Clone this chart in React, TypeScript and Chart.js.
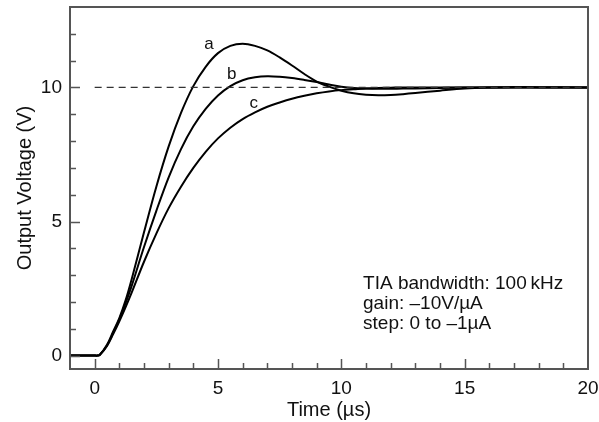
import { useEffect, useRef } from 'react';
import { Chart, registerables } from 'chart.js';

Chart.register(...registerables);

const times = [-1, 0, 0.1, 0.2, 0.5, 0.75, 1, 1.25, 1.5, 2, 2.5, 3, 3.5, 4, 4.5, 5, 5.5, 6, 6.5, 7, 7.5, 8, 8.5, 9, 9.5, 10, 10.5, 11, 11.5, 12, 12.5, 13, 14, 15, 16, 17, 18, 20];
const curveA = [0, 0, 0, 0.02, 0.4, 0.9, 1.4, 2.05, 2.85, 4.6, 6.3, 7.8, 9.05, 10.05, 10.77, 11.28, 11.55, 11.63, 11.55, 11.38, 11.12, 10.82, 10.5, 10.22, 10.03, 9.88, 9.78, 9.73, 9.71, 9.72, 9.75, 9.79, 9.88, 9.96, 10.0, 10.02, 10.01, 10];
const curveB = [0, 0, 0, 0.02, 0.38, 0.85, 1.35, 1.95, 2.6, 4.05, 5.4, 6.65, 7.7, 8.55, 9.2, 9.7, 10.05, 10.27, 10.38, 10.42, 10.4, 10.35, 10.28, 10.2, 10.11, 10.03, 9.98, 9.96, 9.95, 9.95, 9.96, 9.96, 9.98, 10, 10, 10, 10, 10];
const curveC = [0, 0, 0, 0.02, 0.36, 0.8, 1.28, 1.8, 2.35, 3.5, 4.55, 5.5, 6.3, 7.0, 7.6, 8.1, 8.5, 8.82, 9.07, 9.28, 9.44, 9.58, 9.69, 9.78, 9.85, 9.9, 9.93, 9.96, 9.98, 9.99, 10, 10, 10, 10, 10, 10, 10, 10];
const targetLine = [{ x: 0, y: 10 }, { x: 20, y: 10 }];

const xTickLabels = [0, 5, 10, 15, 20];
const yTickLabels = [0, 5, 10];
const xMinorTicks = Array.from({ length: 20 }, (_, i) => i);
const yMinorTicks = Array.from({ length: 13 }, (_, i) => i);

const curveNames = ['a', 'b', 'c'];
const curveLabelPos = [
  { x: 4.63, y: 11.6 },
  { x: 5.56, y: 10.49 },
  { x: 6.45, y: 9.4 },
];
const noteLines = ['TIA bandwidth: 100\u2009kHz', 'gain: \u201310V/\u00b5A', 'step: 0 to \u20131\u00b5A'];

const FONT = '"Liberation Sans", Arial, Helvetica, sans-serif';
const TEXT = '#111111';
const AXIS = '#555555';

const overlay = {
  id: 'overlay',
  afterDraw(chart: any) {
    const { ctx, chartArea, scales } = chart;
    const xs = scales.x;
    const ys = scales.y;
    ctx.save();
    ctx.strokeStyle = AXIS;
    ctx.lineWidth = 1.5;
    ctx.beginPath();
    xMinorTicks.forEach((v) => {
      const px = Math.round(xs.getPixelForValue(v)) + 0.5;
      const len = v % 5 === 0 ? 10 : 6;
      ctx.moveTo(px, chartArea.bottom);
      ctx.lineTo(px, chartArea.bottom - len);
    });
    yMinorTicks.forEach((v) => {
      const py = Math.round(ys.getPixelForValue(v)) + 0.5;
      const len = v % 5 === 0 ? 10 : 6;
      ctx.moveTo(chartArea.left, py);
      ctx.lineTo(chartArea.left + len, py);
    });
    ctx.stroke();
    ctx.lineWidth = 2;
    ctx.strokeRect(chartArea.left, chartArea.top, chartArea.right - chartArea.left, chartArea.bottom - chartArea.top);
    ctx.fillStyle = TEXT;
    ctx.font = `17px ${FONT}`;
    ctx.textAlign = 'center';
    ctx.textBaseline = 'middle';
    curveNames.forEach((n, i) => {
      ctx.fillText(n, xs.getPixelForValue(curveLabelPos[i].x), ys.getPixelForValue(curveLabelPos[i].y));
    });
    ctx.font = `19px ${FONT}`;
    ctx.textAlign = 'left';
    const nx = xs.getPixelForValue(10.88);
    const ny = ys.getPixelForValue(2.68);
    noteLines.forEach((t, i) => ctx.fillText(t, nx, ny + i * 20));
    ctx.restore();
  },
};

export default function App() {
  const ref = useRef<HTMLCanvasElement | null>(null);
  useEffect(() => {
    if (!ref.current) return;
    const mk = (vals: number[]) => times.map((t, i) => ({ x: t, y: vals[i] }));
    const lineDs = (label: string, vals: number[]) => ({
      label,
      data: mk(vals),
      borderColor: '#000000',
      borderWidth: 2,
      pointRadius: 0,
      tension: 0.35,
      fill: false,
    });
    const chart = new Chart(ref.current, {
      type: 'line',
      data: {
        datasets: [
          { label: 'target', data: targetLine, borderColor: '#333333', borderWidth: 1.2, borderDash: [7, 5], pointRadius: 0, fill: false },
          lineDs('a', curveA),
          lineDs('b', curveB),
          lineDs('c', curveC),
        ],
      },
      options: {
        responsive: false,
        animation: false,
        layout: { padding: { top: 7, right: 11, left: 0, bottom: 0 } },
        plugins: { legend: { display: false }, tooltip: { enabled: false } },
        scales: {
          x: {
            type: 'linear',
            min: -1,
            max: 20,
            afterBuildTicks: (s: any) => { s.ticks = xTickLabels.map((v) => ({ value: v })); },
            afterFit: (s: any) => { s.height = 53; s.paddingLeft = 0; s.paddingRight = 0; },
            grid: { display: false, drawTicks: false },
            border: { display: false },
            ticks: { padding: 8, autoSkip: false, maxRotation: 0, color: TEXT, font: { family: FONT, size: 19 } },
            title: { display: true, text: 'Time (\u00b5s)', color: TEXT, font: { family: FONT, size: 20 }, padding: { top: 0, bottom: 0 } },
          },
          y: {
            type: 'linear',
            min: -0.5,
            max: 13,
            afterBuildTicks: (s: any) => { s.ticks = yTickLabels.map((v) => ({ value: v })); },
            afterFit: (s: any) => { s.width = 70; s.paddingTop = 0; s.paddingBottom = 0; },
            grid: { display: false, drawTicks: false },
            border: { display: false },
            ticks: { padding: 8, color: TEXT, font: { family: FONT, size: 19 } },
            title: { display: true, text: 'Output Voltage (V)', color: TEXT, font: { family: FONT, size: 20 }, padding: { top: 13, bottom: 0 } },
          },
        },
      },
      plugins: [overlay],
    });
    return () => chart.destroy();
  }, []);
  return (
    <div style={{ position: 'fixed', left: 0, top: 0, width: 599, height: 422, background: '#fff' }}>
      <canvas ref={ref} width={599} height={422} style={{ display: 'block' }} />
    </div>
  );
}
